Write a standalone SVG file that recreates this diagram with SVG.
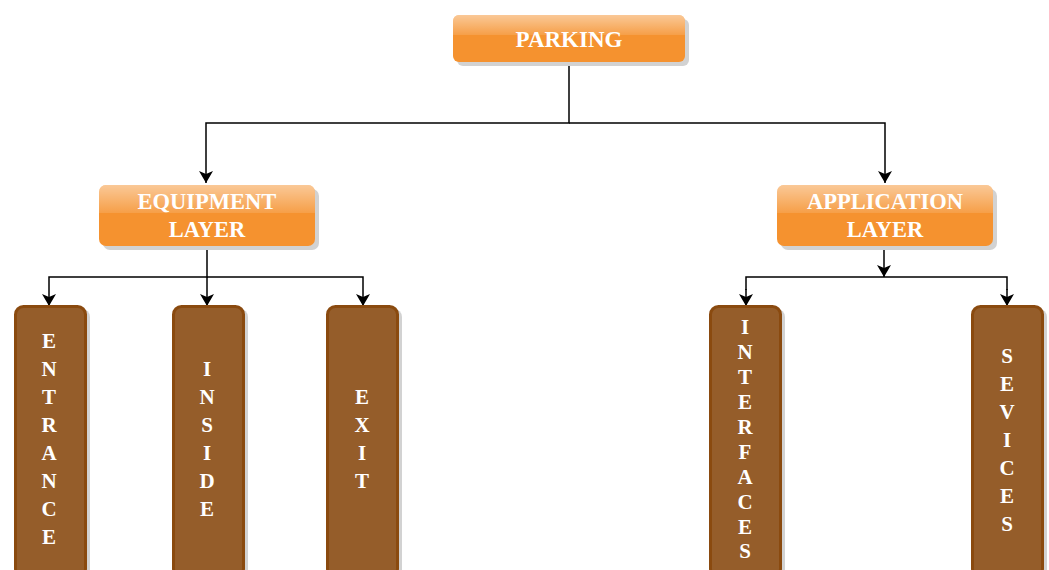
<svg xmlns="http://www.w3.org/2000/svg" width="1049" height="570" viewBox="0 0 1049 570">
  <defs>
    <linearGradient id="gloss" x1="0" y1="0" x2="0" y2="1">
      <stop offset="0" stop-color="#ffffff" stop-opacity="0.5"/>
      <stop offset="1" stop-color="#ffffff" stop-opacity="0.12"/>
    </linearGradient>
    <marker id="arrow" viewBox="0 0 12 14" refX="12" refY="7" markerWidth="12" markerHeight="14" markerUnits="userSpaceOnUse" orient="auto">
      <path d="M0,0 L12,7 L0,14 L3,7 z" fill="#000"/>
    </marker>
  </defs>
  <style>
    .shadow { fill: #d2d2d2; }
    .orange { fill: #f5922f; }
    .hl { fill: url(#gloss); }
    .brown { fill: #955d2a; stroke: #8a4a0f; stroke-width: 3; }
    .t { font-family: "Liberation Serif", "Times New Roman", serif; font-weight: bold; fill: #ffffff; text-anchor: middle; }
    .big { font-size: 23px; }
    .mid { font-size: 22.5px; }
    .v { font-size: 21px; }
    .conn { fill: none; stroke: #000; stroke-width: 1.5; }
  </style>
  <rect width="1049" height="570" fill="#ffffff"/>

  <!-- connectors -->
  <g id="connectors">
    <path class="conn" d="M569,62 V123 H206 V183" marker-end="url(#arrow)"/>
    <path class="conn" d="M569,123 H885 V183" marker-end="url(#arrow)"/>
    <path class="conn" d="M207,246 V277 H49 V306" marker-end="url(#arrow)"/>
    <path class="conn" d="M207,277 V306" marker-end="url(#arrow)"/>
    <path class="conn" d="M207,277 H363 V306" marker-end="url(#arrow)"/>
    <path class="conn" d="M884,246 V277" marker-end="url(#arrow)"/>
    <path class="conn" d="M746,290 V277 H1007 V290"/>
    <path class="conn" d="M746,289 V306" marker-end="url(#arrow)"/>
    <path class="conn" d="M1007,289 V306" marker-end="url(#arrow)"/>
  </g>

  <!-- top node -->
  <g id="parking">
    <rect class="shadow" x="457" y="19" width="232" height="47" rx="6"/>
    <rect class="orange" x="453" y="15" width="232" height="47" rx="6"/>
    <path class="hl" d="M459,15 H679 A6,6 0 0 1 685,21 V35 H453 V21 A6,6 0 0 1 459,15 z"/>
    <text class="t big" x="569" y="47">PARKING</text>
  </g>

  <!-- layer nodes -->
  <g id="equipment-layer">
    <rect class="shadow" x="103" y="189" width="216" height="61" rx="7"/>
    <rect class="orange" x="99" y="185" width="216" height="61" rx="7"/>
    <path class="hl" d="M106,185 H308 A7,7 0 0 1 315,192 V213 H99 V192 A7,7 0 0 1 106,185 z"/>
    <text class="t mid" x="207" y="209">EQUIPMENT</text>
    <text class="t mid" x="207" y="237">LAYER</text>
  </g>

  <g id="application-layer">
    <rect class="shadow" x="781" y="189" width="216" height="61" rx="7"/>
    <rect class="orange" x="777" y="185" width="216" height="61" rx="7"/>
    <path class="hl" d="M784,185 H986 A7,7 0 0 1 993,192 V213 H777 V192 A7,7 0 0 1 784,185 z"/>
    <text class="t mid" x="885" y="209">APPLICATION</text>
    <text class="t mid" x="885" y="237">LAYER</text>
  </g>

  <!-- leaf nodes -->
  <g id="entrance">
    <rect class="shadow" x="19" y="309" width="71" height="270" rx="8"/>
    <rect class="brown" x="15.5" y="306.5" width="70" height="270" rx="8"/>
    <text class="t v" x="49" y="348">E</text>
    <text class="t v" x="49" y="376">N</text>
    <text class="t v" x="49" y="404">T</text>
    <text class="t v" x="49" y="432">R</text>
    <text class="t v" x="49" y="460">A</text>
    <text class="t v" x="49" y="488">N</text>
    <text class="t v" x="49" y="516">C</text>
    <text class="t v" x="49" y="544">E</text>
  </g>

  <g id="inside">
    <rect class="shadow" x="177" y="309" width="71" height="270" rx="8"/>
    <rect class="brown" x="173.5" y="306.5" width="70" height="270" rx="8"/>
    <text class="t v" x="207" y="376">I</text>
    <text class="t v" x="207" y="404">N</text>
    <text class="t v" x="207" y="432">S</text>
    <text class="t v" x="207" y="460">I</text>
    <text class="t v" x="207" y="488">D</text>
    <text class="t v" x="207" y="516">E</text>
  </g>

  <g id="exit">
    <rect class="shadow" x="331" y="309" width="71" height="270" rx="8"/>
    <rect class="brown" x="327.5" y="306.5" width="70" height="270" rx="8"/>
    <text class="t v" x="362" y="404">E</text>
    <text class="t v" x="362" y="432">X</text>
    <text class="t v" x="362" y="460">I</text>
    <text class="t v" x="362" y="488">T</text>
  </g>

  <g id="interfaces">
    <rect class="shadow" x="714" y="309" width="71" height="270" rx="8"/>
    <rect class="brown" x="710.5" y="306.5" width="70" height="270" rx="8"/>
    <text class="t v" x="745" y="334">I</text>
    <text class="t v" x="745" y="359">N</text>
    <text class="t v" x="745" y="384">T</text>
    <text class="t v" x="745" y="409">E</text>
    <text class="t v" x="745" y="434">R</text>
    <text class="t v" x="745" y="459">F</text>
    <text class="t v" x="745" y="484">A</text>
    <text class="t v" x="745" y="509">C</text>
    <text class="t v" x="745" y="534">E</text>
    <text class="t v" x="745" y="558">S</text>
  </g>

  <g id="sevices">
    <rect class="shadow" x="976" y="309" width="71" height="270" rx="8"/>
    <rect class="brown" x="972.5" y="306.5" width="70" height="270" rx="8"/>
    <text class="t v" x="1007" y="363">S</text>
    <text class="t v" x="1007" y="391">E</text>
    <text class="t v" x="1007" y="419">V</text>
    <text class="t v" x="1007" y="447">I</text>
    <text class="t v" x="1007" y="475">C</text>
    <text class="t v" x="1007" y="503">E</text>
    <text class="t v" x="1007" y="531">S</text>
  </g>
</svg>
